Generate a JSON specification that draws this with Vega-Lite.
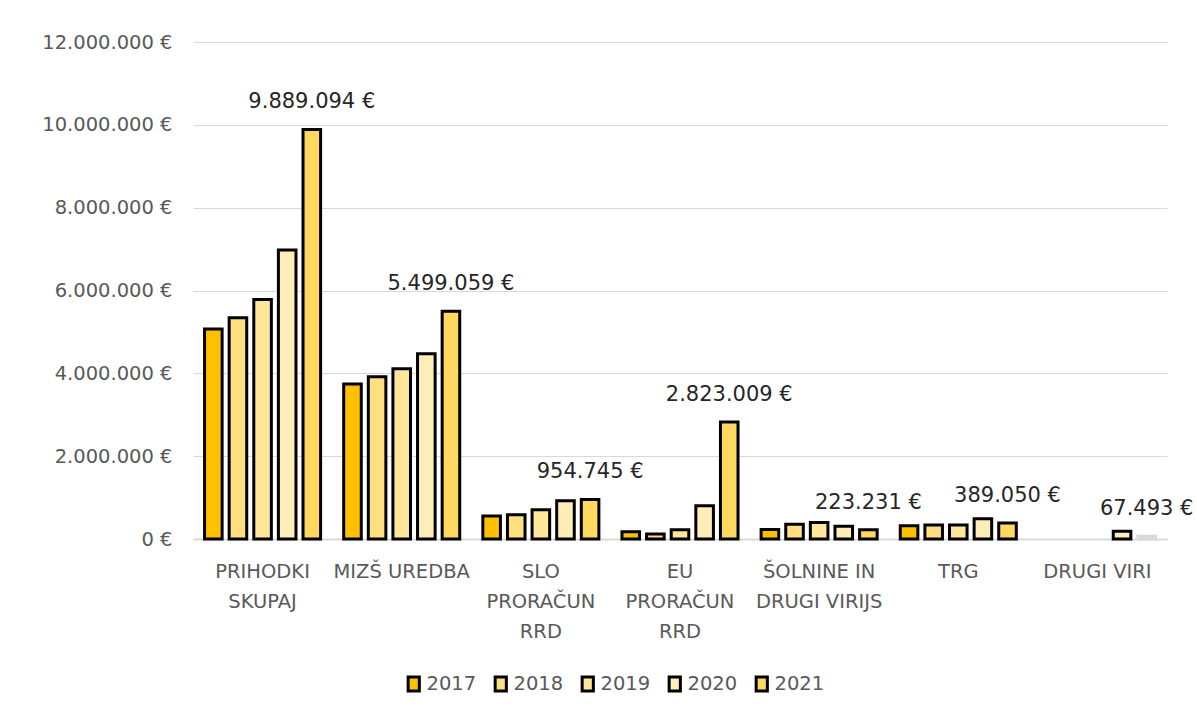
{
  "$schema": "https://vega.github.io/schema/vega-lite/v6.json",
  "width": 974,
  "height": 497,
  "autosize": "none",
  "padding": {"left": 193, "top": 42, "right": 30, "bottom": 183},
  "background": "white",
  "config": {
    "font": "DejaVu Sans",
    "view": {"stroke": null},
    "locale": {"number": {"decimal": ",", "thousands": ".", "grouping": [3], "currency": ["", " €"]}}
  },
  "data": {
    "values": [
      {"category": "PRIHODKI SKUPAJ", "year": "2017", "value": 5070000},
      {"category": "PRIHODKI SKUPAJ", "year": "2018", "value": 5340000},
      {"category": "PRIHODKI SKUPAJ", "year": "2019", "value": 5780000},
      {"category": "PRIHODKI SKUPAJ", "year": "2020", "value": 6980000},
      {"category": "PRIHODKI SKUPAJ", "year": "2021", "value": 9889094},
      {"category": "MIZŠ UREDBA", "year": "2017", "value": 3740000},
      {"category": "MIZŠ UREDBA", "year": "2018", "value": 3920000},
      {"category": "MIZŠ UREDBA", "year": "2019", "value": 4110000},
      {"category": "MIZŠ UREDBA", "year": "2020", "value": 4470000},
      {"category": "MIZŠ UREDBA", "year": "2021", "value": 5499059},
      {"category": "SLO PRORAČUN RRD", "year": "2017", "value": 555000},
      {"category": "SLO PRORAČUN RRD", "year": "2018", "value": 587000},
      {"category": "SLO PRORAČUN RRD", "year": "2019", "value": 707000},
      {"category": "SLO PRORAČUN RRD", "year": "2020", "value": 925000},
      {"category": "SLO PRORAČUN RRD", "year": "2021", "value": 954745},
      {"category": "EU PRORAČUN RRD", "year": "2017", "value": 176000},
      {"category": "EU PRORAČUN RRD", "year": "2018", "value": 120000},
      {"category": "EU PRORAČUN RRD", "year": "2019", "value": 225000},
      {"category": "EU PRORAČUN RRD", "year": "2020", "value": 800000},
      {"category": "EU PRORAČUN RRD", "year": "2021", "value": 2823009},
      {"category": "ŠOLNINE IN DRUGI VIRIJS", "year": "2017", "value": 230000},
      {"category": "ŠOLNINE IN DRUGI VIRIJS", "year": "2018", "value": 355000},
      {"category": "ŠOLNINE IN DRUGI VIRIJS", "year": "2019", "value": 400000},
      {"category": "ŠOLNINE IN DRUGI VIRIJS", "year": "2020", "value": 310000},
      {"category": "ŠOLNINE IN DRUGI VIRIJS", "year": "2021", "value": 223231},
      {"category": "TRG", "year": "2017", "value": 320000},
      {"category": "TRG", "year": "2018", "value": 340000},
      {"category": "TRG", "year": "2019", "value": 340000},
      {"category": "TRG", "year": "2020", "value": 490000},
      {"category": "TRG", "year": "2021", "value": 389050},
      {"category": "DRUGI VIRI", "year": "2020", "value": 190000},
      {"category": "DRUGI VIRI", "year": "2021", "value": 67493}
    ]
  },
  "encoding": {
    "x": {
      "field": "category",
      "type": "nominal",
      "sort": ["PRIHODKI SKUPAJ", "MIZŠ UREDBA", "SLO PRORAČUN RRD", "EU PRORAČUN RRD", "ŠOLNINE IN DRUGI VIRIJS", "TRG", "DRUGI VIRI"],
      "scale": {"paddingInner": 0.166, "paddingOuter": 0.083},
      "axis": {
        "title": null,
        "labelAngle": 0,
        "ticks": false,
        "labelPadding": 23,
        "labelFontSize": 19.5,
        "labelColor": "#595959",
        "labelLineHeight": 30,
        "labelLimit": 0,
        "labelBaseline": "top",
        "domainColor": "#D9D9D9",
        "domainWidth": 2,
        "labelExpr": "datum.label == 'PRIHODKI SKUPAJ' ? ['PRIHODKI', 'SKUPAJ'] : datum.label == 'SLO PRORAČUN RRD' ? ['SLO', 'PRORAČUN', 'RRD'] : datum.label == 'EU PRORAČUN RRD' ? ['EU', 'PRORAČUN', 'RRD'] : datum.label == 'ŠOLNINE IN DRUGI VIRIJS' ? ['ŠOLNINE IN', 'DRUGI VIRIJS'] : datum.label"
      }
    },
    "xOffset": {"field": "year", "type": "nominal", "scale": {"paddingInner": 0.286}},
    "y": {
      "field": "value",
      "type": "quantitative",
      "scale": {"domain": [0, 12000000], "nice": false},
      "axis": {
        "title": null,
        "values": [0, 2000000, 4000000, 6000000, 8000000, 10000000, 12000000],
        "format": "$,.0f",
        "domain": false,
        "ticks": false,
        "labelPadding": 21,
        "labelFontSize": 19.5,
        "labelColor": "#595959",
        "gridColor": "#D9D9D9",
        "gridWidth": 1
      }
    }
  },
  "layer": [
    {
      "mark": {"type": "bar", "strokeWidth": 3, "strokeJoin": "miter"},
      "encoding": {
        "stroke": {"condition": {"test": "datum.value < 100000", "value": "#D9D9D9"}, "value": "black"},
        "fill": {
          "field": "year",
          "type": "nominal",
          "scale": {"domain": ["2017", "2018", "2019", "2020", "2021"], "range": ["#FFC000", "#FFDF80", "#FFE699", "#FFEDB8", "#FFD860"]},
          "legend": {
            "title": null,
            "orient": "none",
            "legendX": 211,
            "legendY": 632,
            "direction": "horizontal",
            "symbolType": "M-0.8,-1H0.8V1H-0.8Z",
            "symbolSize": 196,
            "symbolStrokeColor": "black",
            "symbolStrokeWidth": 3,
            "symbolOpacity": 1,
            "labelFontSize": 19.5,
            "labelColor": "#595959",
            "labelOffset": 3,
            "columnPadding": 12
          }
        }
      }
    },
    {
      "transform": [{"filter": "datum.year == '2021'"}],
      "mark": {"type": "text", "baseline": "middle", "dy": -27, "fontSize": 21, "color": "#262626"},
      "encoding": {
        "text": {"field": "value", "type": "quantitative", "format": "$,.0f"}
      }
    }
  ]
}
